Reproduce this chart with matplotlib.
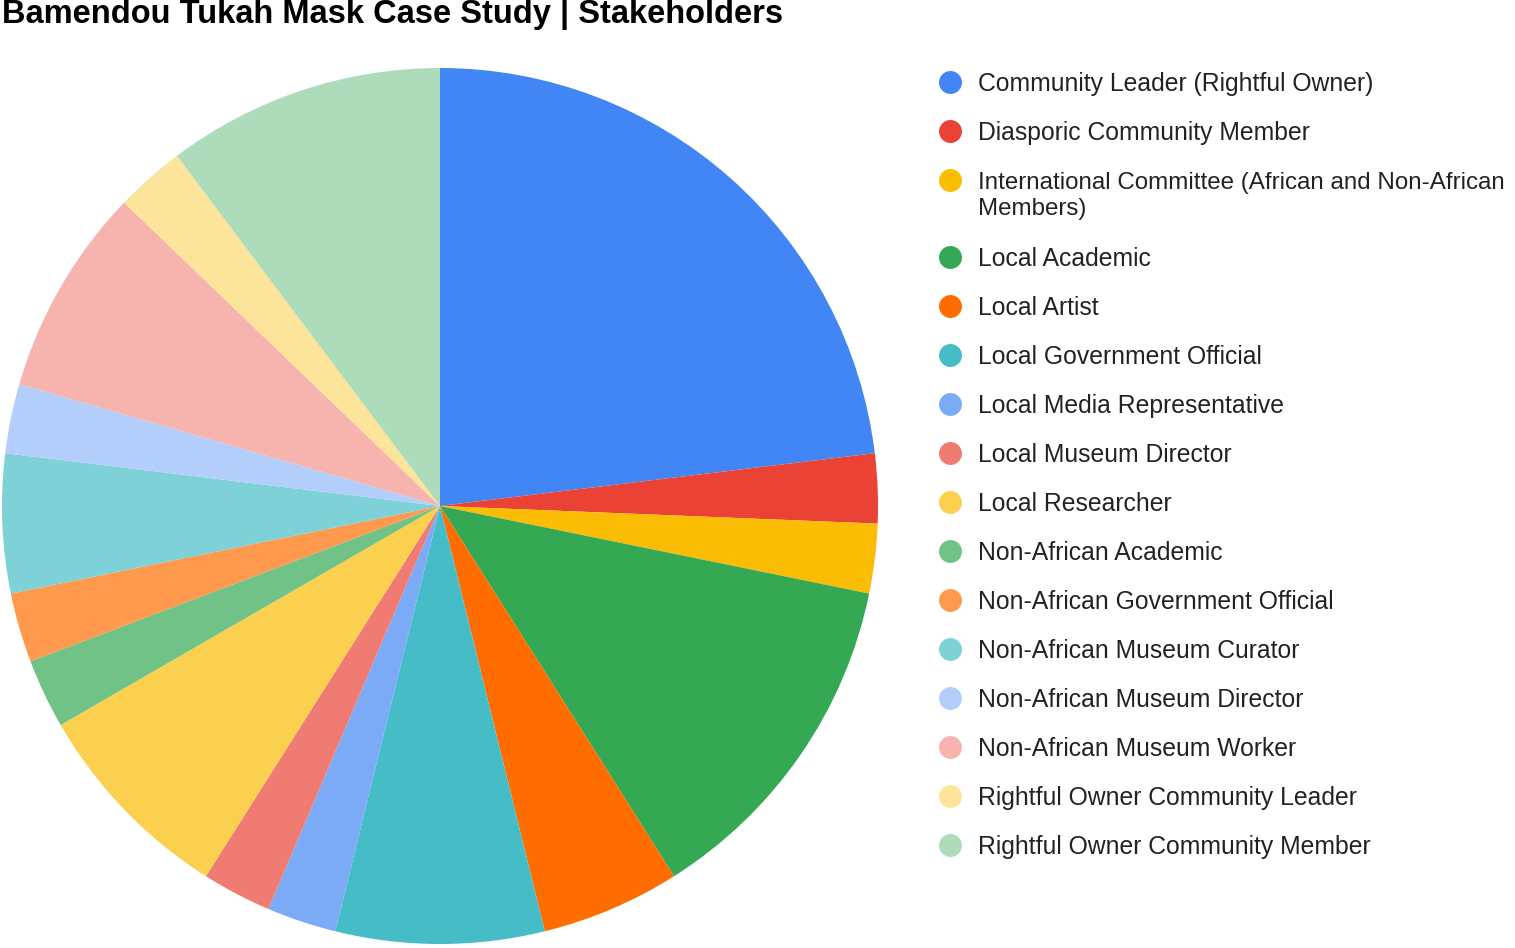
import matplotlib.pyplot as plt
from matplotlib.lines import Line2D

plt.rcParams['font.family'] = ['Liberation Sans', 'DejaVu Sans']

# stakeholder counts (39 in total)
labels = [
    'Community Leader (Rightful Owner)',
    'Diasporic Community Member',
    'International Committee (African and Non-African\nMembers)',
    'Local Academic',
    'Local Artist',
    'Local Government Official',
    'Local Media Representative',
    'Local Museum Director',
    'Local Researcher',
    'Non-African Academic',
    'Non-African Government Official',
    'Non-African Museum Curator',
    'Non-African Museum Director',
    'Non-African Museum Worker',
    'Rightful Owner Community Leader',
    'Rightful Owner Community Member',
]
counts = [9, 1, 1, 5, 2, 3, 1, 1, 3, 1, 1, 2, 1, 3, 1, 4]
colors = ['#4285F4', '#EA4335', '#FBBC04', '#34A853', '#FF6D01', '#46BDC6',
          '#7BAAF7', '#F07B72', '#FCD04F', '#71C287', '#FF994D', '#7ED1D7',
          '#B3CEFB', '#F7B4AE', '#FDE49B', '#AEDCBA']

W, H = 1515, 948
fig = plt.figure(figsize=(W / 100, H / 100), dpi=100)

# pie centre (440, 506) px, radius 438 px
cx, cy, r = 440, 506, 438
ax = fig.add_axes([(cx - r) / W, (H - cy - r) / H, 2 * r / W, 2 * r / H])
ax.pie(counts, colors=colors, startangle=90, counterclock=False, radius=1,
       wedgeprops=dict(linewidth=0))
ax.set_xlim(-1, 1)
ax.set_ylim(-1, 1)
ax.set_aspect('equal')
ax.axis('off')

fig.text(2 / W, 1 - 14 / H, 'Bamendou Tukah Mask Case Study | Stakeholders',
         fontsize=23.5, fontweight='bold', va='center', ha='left')

# legend, drawn by hand
y = 82
for lab, col in zip(labels, colors):
    fig.add_artist(Line2D([950 / W], [1 - y / H], marker='o', markersize=15.5,
                          color=col, linestyle='none', transform=fig.transFigure))
    if '\n' in lab:
        fig.text(978 / W, 1 - (y + 16) / H, lab, fontsize=17.4, va='center',
                 ha='left', color='#222222', linespacing=1.26)
        y += 49 + 28
    else:
        fig.text(978 / W, 1 - (y + 2) / H, lab, fontsize=17.8, va='center',
                 ha='left', color='#222222')
        y += 49

fig.savefig('out.png', dpi=100, facecolor='white')
